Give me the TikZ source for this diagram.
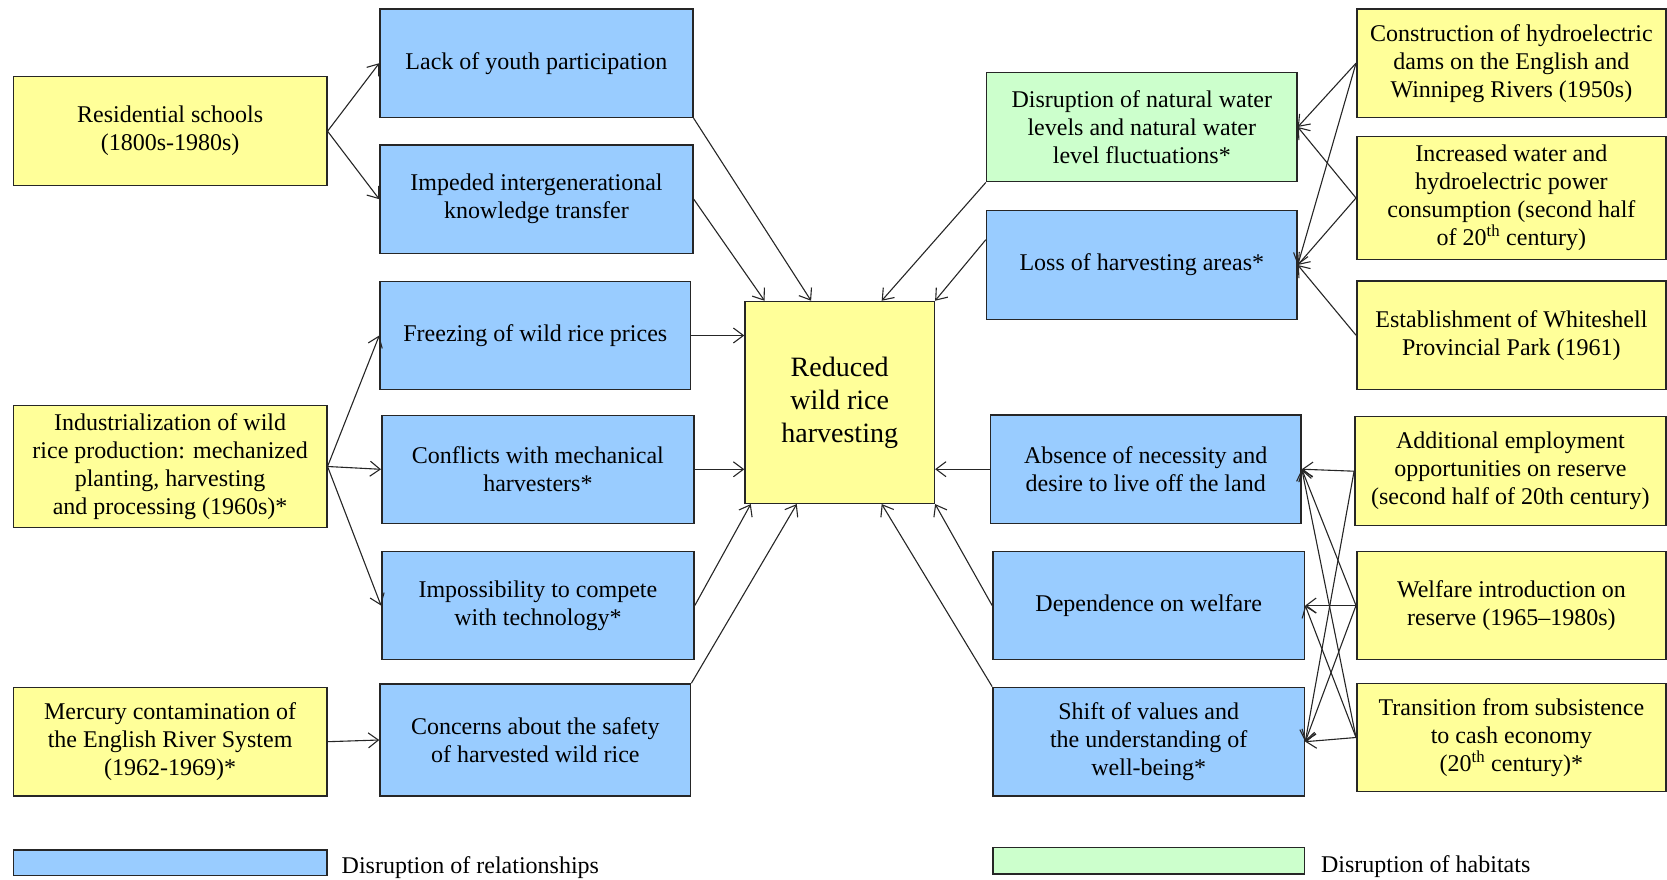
\documentclass[tikz,border=0pt]{standalone}
\usepackage{fontspec}
\setmainfont{Liberation Serif}
\usetikzlibrary{arrows.meta,calc}
\definecolor{yel}{HTML}{FFFF99}
\definecolor{blu}{HTML}{99CCFF}
\definecolor{grn}{HTML}{CCFFCC}
\begin{document}
\begin{tikzpicture}[x=1pt,y=-1pt,
  box/.style={draw=black!85, line width=1.5pt, align=center, inner sep=2pt,
    font=\fontsize{24}{28}\selectfont, text=black},
  yb/.style={box, fill=yel},
  bb/.style={box, fill=blu},
  gb/.style={box, fill=grn},
  sz/.style 2 args={minimum width=#1pt, minimum height=#2pt},
  arr/.style={-{Straight Barb[length=10pt,width=15pt]}, line width=1.1pt, draw=black!85},
  legtext/.style={anchor=base west, inner sep=0pt, font=\fontsize{24}{28}\selectfont, text=black},
]
\useasboundingbox (0,0) rectangle (1667,880);

% left column
\node[yb, sz={313.4}{109}] (res) at (170.1,131.2) {Residential schools\\(1800s-1980s)};
\node[yb, sz={313.4}{122.4}] (ind) at (170.1,466.5) {Industrialization of wild\\rice production: mechanized\\planting, harvesting\\and processing (1960s)*};
\node[yb, sz={313.4}{108.7}] (mer) at (170.1,741.7) {Mercury contamination of\\the English River System\\(1962-1969)*};

% middle-left column
\node[bb, sz={312.8}{108.3}] (lack) at (536.4,63.2) {Lack of youth participation};
\node[bb, sz={313}{108.3}] (imp) at (536.5,199.2) {Impeded intergenerational\\knowledge transfer};
\node[bb, sz={310.6}{107.6}] (frz) at (535.3,335.5) {Freezing of wild rice prices};
\node[bb, sz={312.3}{108}] (con) at (537.9,469.3) {Conflicts with mechanical\\harvesters*};
\node[bb, sz={312.3}{107.6}] (ims) at (537.9,605.5) {Impossibility to compete\\with technology*};
\node[bb, sz={310.6}{112}] (cnc) at (535.3,740) {Concerns about the safety\\of harvested wild rice};

% centre
\node[yb, sz={189.3}{201.8}, font=\fontsize{28}{33}\selectfont] (red) at (839.7,402.4) {Reduced\\wild rice\\harvesting};

% middle-right column
\node[gb, sz={310.4}{109.4}] (dis) at (1141.8,127) {Disruption of natural water\\levels and natural water\\level fluctuations*};
\node[bb, sz={310.4}{108.6}] (los) at (1141.8,265) {Loss of harvesting areas*};
\node[bb, sz={310.7}{108.3}] (abs) at (1145.7,469.2) {Absence of necessity and\\desire to live off the land};
\node[bb, sz={311.6}{107.6}] (dep) at (1148.7,605.5) {Dependence on welfare};
\node[bb, sz={311.6}{108.7}] (shf) at (1148.7,741.7) {Shift of values and\\the understanding of\\well-being*};

% right column
\node[yb, sz={309.3}{108.3}] (cst) at (1511.4,63.2) {Construction of hydroelectric\\dams on the English and\\Winnipeg Rivers (1950s)};
\node[yb, sz={309.3}{122.6}] (inc) at (1511.4,198) {Increased water and\\hydroelectric power\\consumption (second half\\of 20\textsuperscript{th} century)};
\node[yb, sz={309.3}{108.3}] (est) at (1511.4,335.2) {Establishment of Whiteshell\\Provincial Park (1961)};
\node[yb, sz={311.2}{109}] (add) at (1510.4,471.2) {Additional employment\\opportunities on reserve\\(second half of 20th century)};
\node[yb, sz={309.3}{107.6}] (wel) at (1511.4,605.5) {Welfare introduction on\\reserve (1965--1980s)};
\node[yb, sz={309.3}{108.4}] (trn) at (1511.4,737.5) {Transition from subsistence\\to cash economy\\(20\textsuperscript{th} century)*};

% legend
\node[bb, sz={313.4}{25.3}, inner sep=0pt] (lgb) at (170.1,862.6) {};
\node[legtext] (lgbt) at (341.5,873) {Disruption of relationships};
\node[gb, sz={311.6}{26.7}, inner sep=0pt] (lgg) at (1148.7,860.6) {};
\node[legtext] (lggt) at (1320.8,872) {Disruption of habitats};

% left arrows
\draw[arr] (res.east) -- (lack.west);
\draw[arr] (res.east) -- (imp.west);
\draw[arr] (ind.east) -- (frz.west);
\draw[arr] (ind.east) -- (con.west);
\draw[arr] (ind.east) -- (ims.west);
\draw[arr] (mer.east) -- (cnc.west);

% into centre
\draw[arr] (imp.east) -- ($(red.north west)!0.106!(red.north east)$);
\draw[arr] (lack.south east) -- ($(red.north west)!0.35!(red.north east)$);
\draw[arr] (dis.south west) -- ($(red.north west)!0.72!(red.north east)$);
\draw[arr] ($(los.north west)!0.27!(los.south west)$) -- (red.north east);
\draw[arr] (frz.east) -- (frz.east -| red.west);
\draw[arr] (con.east) -- (con.east -| red.west);
\draw[arr] (abs.west) -- (abs.west -| red.east);
\draw[arr] (ims.east) -- ($(red.south west)!0.034!(red.south east)$);
\draw[arr] (cnc.north east) -- ($(red.south west)!0.275!(red.south east)$);
\draw[arr] (dep.west) -- (red.south east);
\draw[arr] (shf.north west) -- ($(red.south west)!0.72!(red.south east)$);

% right arrows (upper)
\draw[arr] (cst.west) -- (dis.east);
\draw[arr] (cst.west) -- (los.east);
\draw[arr] (inc.west) -- (dis.east);
\draw[arr] (inc.west) -- (los.east);
\draw[arr] (est.west) -- (los.east);

% right arrows (lower)
\draw[arr] (add.west) -- (abs.east);
\draw[arr] (add.west) -- (shf.east);
\draw[arr] (wel.west) -- (abs.east);
\draw[arr] (wel.west) -- (dep.east);
\draw[arr] (wel.west) -- (shf.east);
\draw[arr] (trn.west) -- (abs.east);
\draw[arr] (trn.west) -- (dep.east);
\draw[arr] (trn.west) -- (shf.east);
\end{tikzpicture}
\end{document}
